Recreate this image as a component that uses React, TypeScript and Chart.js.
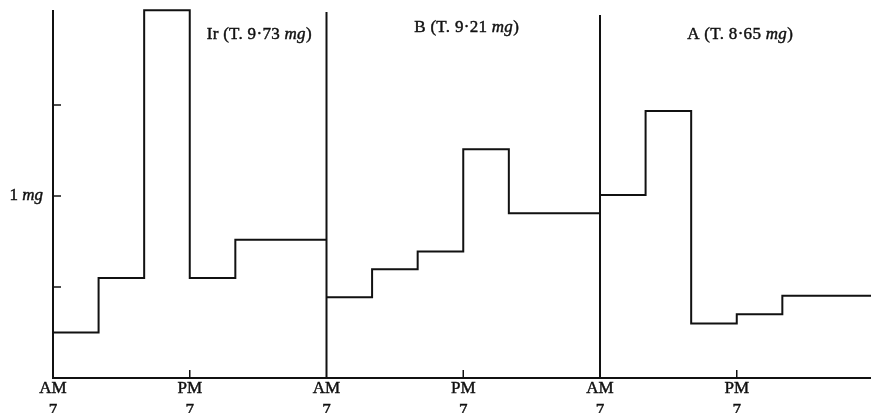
import { useEffect, useRef } from "react";
import { Chart, registerables } from "chart.js";

Chart.register(...registerables);

// Hours after 7 AM at which each collection interval starts (each day = 24 h)
const intervalStarts = [0, 4, 8, 12, 16];
const dayLength = 24;

// Excretion (mg per 2 h) for each interval, per subject
const irValues = [0.25, 0.55, 2.02, 0.55, 0.76];
const bValues = [0.443, 0.597, 0.695, 1.257, 0.905];
const aValues = [1.005, 1.467, 0.3, 0.35, 0.452];

const panelNames = ["Ir", "B", "A"];
const panelTotals = ["9\u00B773", "9\u00B721", "8\u00B765"];

const yTickValues = [0.5, 1, 1.5];
const yTickLabels = ["", "1 mg", ""];
const xTickHours = [0, 12, 24, 36, 48, 60];
const xTickTop = ["AM", "PM", "AM", "PM", "AM", "PM"];
const xTickBottom = ["7", "7", "7", "7", "7", "7"];

const INK = "#111111";
const FONT = '"Liberation Serif", "Times New Roman", serif';

function stepPoints(values: number[], day: number) {
  const off = day * dayLength;
  const pts = intervalStarts.map((h, i) => ({ x: off + h, y: values[i] }));
  pts.push({ x: off + dayLength, y: values[values.length - 1] });
  return pts;
}

function heavyText(ctx: CanvasRenderingContext2D, t: string, x: number, y: number) {
  ctx.fillText(t, x, y);
  ctx.lineWidth = 0.45;
  ctx.strokeText(t, x, y);
}

function drawRuns(
  ctx: CanvasRenderingContext2D,
  runs: { t: string; italic?: boolean }[],
  cx: number,
  y: number,
  size: number,
  spacing: number
) {
  const fontFor = (it?: boolean) => `${it ? "italic " : ""}${size}px ${FONT}`;
  (ctx as any).letterSpacing = `${spacing}px`;
  let total = 0;
  const widths = runs.map((r) => {
    ctx.font = fontFor(r.italic);
    const w = ctx.measureText(r.t).width;
    total += w;
    return w;
  });
  let x = cx - total / 2;
  ctx.textAlign = "left";
  ctx.textBaseline = "alphabetic";
  runs.forEach((r, i) => {
    ctx.font = fontFor(r.italic);
    heavyText(ctx, r.t, x, y);
    x += widths[i];
  });
  (ctx as any).letterSpacing = "0px";
}

const decorPlugin = {
  id: "decor",
  beforeDraw(chart: any) {
    const { ctx } = chart;
    ctx.save();
    ctx.fillStyle = "#ffffff";
    ctx.fillRect(0, 0, chart.width, chart.height);
    ctx.restore();
  },
  afterDatasetsDraw(chart: any) {
    const { ctx, chartArea } = chart;
    const xs = chart.scales.x;
    const ys = chart.scales.y;
    const base = ys.getPixelForValue(0);
    ctx.save();
    ctx.strokeStyle = INK;
    ctx.fillStyle = INK;
    ctx.lineWidth = 2;
    ctx.lineCap = "butt";

    // y axis
    const x0 = xs.getPixelForValue(0);
    ctx.beginPath();
    ctx.moveTo(x0, chartArea.top);
    ctx.lineTo(x0, base + 1);
    ctx.stroke();

    // baseline
    ctx.beginPath();
    ctx.moveTo(x0, base);
    ctx.lineTo(chartArea.right, base);
    ctx.stroke();

    // day separators
    [1, 2].forEach((d, i) => {
      const px = xs.getPixelForValue(d * dayLength);
      ctx.beginPath();
      ctx.moveTo(px, chartArea.top + (i === 0 ? 2 : 5));
      ctx.lineTo(px, base);
      ctx.stroke();
    });

    // y ticks (inward)
    ctx.lineWidth = 1.5;
    yTickValues.forEach((v) => {
      const py = ys.getPixelForValue(v);
      ctx.beginPath();
      ctx.moveTo(x0, py);
      ctx.lineTo(x0 + 8, py);
      ctx.stroke();
    });

    // PM ticks (upward)
    xTickHours.forEach((h, i) => {
      if (xTickTop[i] !== "PM") return;
      const px = xs.getPixelForValue(h);
      ctx.beginPath();
      ctx.moveTo(px, base);
      ctx.lineTo(px, base - 8);
      ctx.stroke();
    });

    // y tick labels
    yTickValues.forEach((v, i) => {
      const lbl = yTickLabels[i];
      if (!lbl) return;
      const py = ys.getPixelForValue(v);
      const [num, unit] = lbl.split(" ");
      ctx.font = `17px ${FONT}`;
      const wNum = ctx.measureText(num + " ").width;
      ctx.font = `italic 17px ${FONT}`;
      const wUnit = ctx.measureText(unit).width;
      const right = x0 - 10;
      ctx.textAlign = "left";
      ctx.textBaseline = "alphabetic";
      ctx.font = `17px ${FONT}`;
      heavyText(ctx, num + " ", right - wUnit - wNum, py + 4);
      ctx.font = `italic 17px ${FONT}`;
      heavyText(ctx, unit, right - wUnit, py + 4);
    });

    // x tick labels
    xTickHours.forEach((h, i) => {
      const px = xs.getPixelForValue(h);
      ctx.font = `17px ${FONT}`;
      ctx.textAlign = "center";
      ctx.textBaseline = "alphabetic";
      heavyText(ctx, xTickTop[i], px, base + 15);
      heavyText(ctx, xTickBottom[i], px, base + 37);
    });

    // panel labels
    const labelPos = [
      { h: 18.1, v: 1.86 },
      { h: 36.3, v: 1.9 },
      { h: 60.3, v: 1.86 },
    ];
    panelNames.forEach((name, i) => {
      const px = xs.getPixelForValue(labelPos[i].h);
      const py = ys.getPixelForValue(labelPos[i].v);
      drawRuns(
        ctx,
        [
          { t: `${name} (T. ${panelTotals[i]} ` },
          { t: "mg", italic: true },
          { t: ")" },
        ],
        px,
        py,
        17,
        0.3
      );
    });
    ctx.restore();
  },
};

export default function App() {
  const ref = useRef<HTMLCanvasElement | null>(null);
  useEffect(() => {
    document.body.style.margin = "0";
    if (!ref.current) return;
    const mk = (values: number[], day: number, label: string) => ({
      label,
      data: stepPoints(values, day),
      stepped: "before" as const,
      borderColor: INK,
      borderWidth: 2,
      pointRadius: 0,
      fill: false,
      clip: false as any,
    });
    const chart = new Chart(ref.current, {
      type: "line",
      data: {
        datasets: [
          mk(irValues, 0, panelNames[0]),
          mk(bValues, 1, panelNames[1]),
          mk(aValues, 2, panelNames[2]),
        ],
      },
      options: {
        responsive: false,
        animation: false,
        layout: { padding: { left: 53, right: 0, top: 10, bottom: 35 } },
        plugins: {
          legend: { display: false },
          tooltip: { enabled: false },
        },
        scales: {
          x: { type: "linear", min: 0, max: 71.78, display: false },
          y: { type: "linear", min: 0, max: 2.022, display: false },
        },
      },
      plugins: [decorPlugin],
    });
    return () => chart.destroy();
  }, []);
  return (
    <div style={{ position: "absolute", left: 0, top: 0, width: 871, height: 413 }}>
      <canvas ref={ref} width={871} height={413} style={{ display: "block" }} />
    </div>
  );
}
